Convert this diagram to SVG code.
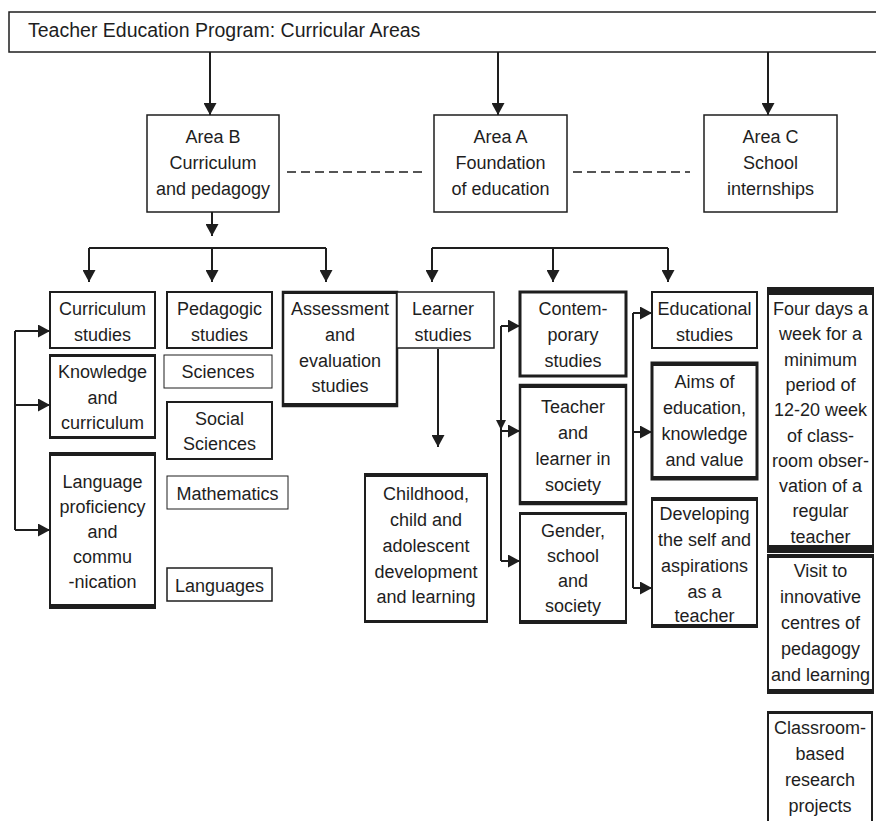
<svg xmlns="http://www.w3.org/2000/svg" width="876" height="821" viewBox="0 0 876 821">
<style>
.t{font-family:"Liberation Sans",Arial,sans-serif;font-size:18px;fill:#1e1e1e;text-anchor:middle}
.ttl{font-size:19.5px;text-anchor:start}
.box{fill:#fff;stroke:#1e1e1e}
.band{fill:#1e1e1e}
.s1{stroke-width:1}.s15{stroke-width:1.5}.s2{stroke-width:2}.s25{stroke-width:2.5}.s3{stroke-width:3}
.c{stroke:#1e1e1e;stroke-width:2;fill:none}
.ar{marker-end:url(#ah)}
.d{stroke:#1e1e1e;stroke-width:1.5;stroke-dasharray:9 5;fill:none}
</style>
<defs>
<marker id="ah" markerUnits="userSpaceOnUse" markerWidth="13" markerHeight="13" refX="12" refY="6.5" orient="auto" viewBox="0 0 13 13"><path d="M0,0 L12,6.5 L0,13 z" fill="#1e1e1e"/></marker>
</defs>
<rect width="876" height="821" fill="#fff"/>

<g id="connectors">
<path class="c ar" d="M210,52 V115"/>
<path class="c ar" d="M498,52 V115"/>
<path class="c ar" d="M768,52 V115"/>
<path class="d" d="M287,172 H425"/>
<path class="d" d="M573,172 H690"/>
<path class="c ar" d="M212,212 V236"/>
<path class="c" d="M89,248 H326"/>
<path class="c ar" d="M89,248 V282"/>
<path class="c ar" d="M212,248 V282"/>
<path class="c ar" d="M326,248 V282"/>
<path class="c" d="M432,248 H668"/>
<path class="c ar" d="M432,248 V282"/>
<path class="c ar" d="M553,248 V282"/>
<path class="c ar" d="M668,248 V282"/>
<path class="c" d="M15,331 V530"/>
<path class="c ar" d="M15,331 H50"/>
<path class="c ar" d="M15,405 H50"/>
<path class="c ar" d="M15,530 H50"/>
<path class="c ar" d="M438,349 V447"/>
<path class="c" d="M501,326 V561"/>
<path class="c ar" d="M501,326 H520"/>
<path class="c ar" d="M501,431 H520"/>
<path class="c ar" d="M501,561 H520"/>
<polygon points="496,420 506,420 501,430" fill="#1e1e1e"/>
<path class="c" d="M633,313 V588"/>
<path class="c ar" d="M633,313 H652"/>
<path class="c ar" d="M633,432 H652"/>
<path class="c ar" d="M633,588 H652"/>
</g>

<g id="title">
<rect class="box s15" x="9" y="12" width="880" height="40"/>
<text class="t ttl" x="28" y="37">Teacher Education Program: Curricular Areas</text>
</g>

<g id="areaB">
<rect class="box s15" x="147" y="115" width="132" height="97"/>
<text class="t" x="213" y="143">Area B<tspan x="213" y="169">Curriculum</tspan><tspan x="213" y="195">and pedagogy</tspan></text>
</g>
<g id="areaA">
<rect class="box s15" x="434" y="115" width="133" height="97"/>
<text class="t" x="500.5" y="143">Area A<tspan x="500.5" y="169">Foundation</tspan><tspan x="500.5" y="195">of education</tspan></text>
</g>
<g id="areaC">
<rect class="box s15" x="704" y="115" width="133" height="97"/>
<text class="t" x="770.5" y="143">Area C<tspan x="770.5" y="169">School</tspan><tspan x="770.5" y="195">internships</tspan></text>
</g>

<g id="curriculumStudies">
<rect class="box s2" x="50" y="292" width="105" height="56"/>
<text class="t" x="102.5" y="315">Curriculum<tspan x="102.5" y="341">studies</tspan></text>
</g>
<g id="pedagogicStudies">
<rect class="box s2" x="167" y="292" width="105" height="56"/>
<text class="t" x="219.5" y="315">Pedagogic<tspan x="219.5" y="341">studies</tspan></text>
</g>
<g id="knowledge">
<rect class="box s2" x="50" y="355" width="105" height="83"/>
<rect class="band" x="49" y="354" width="107" height="3"/>
<rect class="band" x="49" y="436" width="107" height="3"/>
<text class="t" x="102.5" y="378">Knowledge<tspan x="102.5" y="403.5">and</tspan><tspan x="102.5" y="429">curriculum</tspan></text>
</g>
<g id="sciences">
<rect class="box s1" x="164" y="355" width="108" height="33"/>
<text class="t" x="218" y="378">Sciences</text>
</g>
<g id="socialSciences">
<rect class="box s2" x="167" y="402" width="105" height="57"/>
<text class="t" x="219.5" y="425">Social<tspan x="219.5" y="450">Sciences</tspan></text>
</g>
<g id="language">
<rect class="box s2" x="50" y="453" width="105" height="155"/>
<rect class="band" x="49" y="452" width="107" height="4"/>
<rect class="band" x="49" y="604" width="107" height="5"/>
<text class="t" x="102.5" y="488">Language<tspan x="102.5" y="513">proficiency</tspan><tspan x="102.5" y="538">and</tspan><tspan x="102.5" y="563">commu</tspan><tspan x="102.5" y="588">-nication</tspan></text>
</g>
<g id="mathematics">
<rect class="box s1" x="167" y="476" width="121" height="33"/>
<text class="t" x="227.5" y="500">Mathematics</text>
</g>
<g id="languages">
<rect class="box s15" x="167" y="568" width="105" height="33"/>
<text class="t" x="219.5" y="592">Languages</text>
</g>
<g id="assessment">
<rect class="box s25" x="283" y="292" width="114" height="114"/>
<rect class="band" x="282" y="291" width="116" height="3"/>
<rect class="band" x="282" y="403" width="116" height="4"/>
<text class="t" x="340" y="315">Assessment<tspan x="340" y="341">and</tspan><tspan x="340" y="367">evaluation</tspan><tspan x="340" y="392">studies</tspan></text>
</g>
<g id="learnerStudies">
<rect class="box s15" x="397" y="292" width="97" height="56"/>
<text class="t" x="443" y="315">Learner<tspan x="443" y="341">studies</tspan></text>
</g>
<g id="childhood">
<rect class="box s2" x="365" y="474" width="122" height="148"/>
<rect class="band" x="364" y="473" width="124" height="4"/>
<rect class="band" x="364" y="620" width="124" height="3"/>
<text class="t" x="426" y="500">Childhood,<tspan x="426" y="526">child and</tspan><tspan x="426" y="552">adolescent</tspan><tspan x="426" y="578">development</tspan><tspan x="426" y="603">and learning</tspan></text>
</g>
<g id="contemporary">
<rect class="box s3" x="520" y="292" width="106" height="84"/>
<text class="t" x="573" y="315">Contem-<tspan x="573" y="341">porary</tspan><tspan x="573" y="367">studies</tspan></text>
</g>
<g id="teacherLearner">
<rect class="box s25" x="520" y="385" width="106" height="119"/>
<rect class="band" x="519" y="384" width="108" height="4"/>
<rect class="band" x="519" y="501" width="108" height="4"/>
<text class="t" x="573" y="413">Teacher<tspan x="573" y="439">and</tspan><tspan x="573" y="465">learner in</tspan><tspan x="573" y="491">society</tspan></text>
</g>
<g id="gender">
<rect class="box s2" x="520" y="513" width="106" height="110"/>
<rect class="band" x="519" y="512" width="108" height="3"/>
<rect class="band" x="519" y="620" width="108" height="4"/>
<text class="t" x="573" y="537">Gender,<tspan x="573" y="562">school</tspan><tspan x="573" y="587">and</tspan><tspan x="573" y="612">society</tspan></text>
</g>
<g id="educationalStudies">
<rect class="box s2" x="652" y="292" width="105" height="56"/>
<text class="t" x="704.5" y="315">Educational<tspan x="704.5" y="341">studies</tspan></text>
</g>
<g id="aims">
<rect class="box s3" x="652" y="363" width="105" height="116"/>
<rect class="band" x="651" y="362" width="107" height="4"/>
<rect class="band" x="651" y="476" width="107" height="4"/>
<text class="t" x="704.5" y="388">Aims of<tspan x="704.5" y="414">education,</tspan><tspan x="704.5" y="440">knowledge</tspan><tspan x="704.5" y="466">and value</tspan></text>
</g>
<g id="developing">
<rect class="box s2" x="652" y="498" width="105" height="129"/>
<rect class="band" x="651" y="497" width="107" height="4"/>
<rect class="band" x="651" y="624" width="107" height="4"/>
<text class="t" x="704.5" y="520">Developing<tspan x="704.5" y="546">the self and</tspan><tspan x="704.5" y="572">aspirations</tspan><tspan x="704.5" y="598">as a</tspan><tspan x="704.5" y="622">teacher</tspan></text>
</g>
<g id="fourDays">
<rect class="box s2" x="768" y="288" width="105" height="264"/>
<text class="t" x="820.5" y="315">Four days a<tspan x="820.5" y="340.3">week for a</tspan><tspan x="820.5" y="365.6">minimum</tspan><tspan x="820.5" y="390.9">period of</tspan><tspan x="820.5" y="416.2">12-20 week</tspan><tspan x="820.5" y="441.5">of class-</tspan><tspan x="820.5" y="466.8">room obser-</tspan><tspan x="820.5" y="492.1">vation of a</tspan><tspan x="820.5" y="517.4">regular</tspan><tspan x="820.5" y="542.7">teacher</tspan></text>
<rect class="band" x="767" y="287" width="107" height="8"/>
<rect class="band" x="767" y="545" width="107" height="7"/>
</g>
<g id="visit">
<rect class="box s2" x="768" y="555" width="105" height="138"/>
<rect class="band" x="767" y="554" width="107" height="4"/>
<rect class="band" x="767" y="689" width="107" height="5"/>
<text class="t" x="820.5" y="577">Visit to<tspan x="820.5" y="603">innovative</tspan><tspan x="820.5" y="629">centres of</tspan><tspan x="820.5" y="655">pedagogy</tspan><tspan x="820.5" y="681">and learning</tspan></text>
</g>
<g id="classroom">
<rect class="box s2" x="768" y="712" width="104" height="115"/>
<rect class="band" x="767" y="711" width="106" height="3"/>
<text class="t" x="820" y="734">Classroom-<tspan x="820" y="760">based</tspan><tspan x="820" y="786">research</tspan><tspan x="820" y="812">projects</tspan></text>
</g>
</svg>
